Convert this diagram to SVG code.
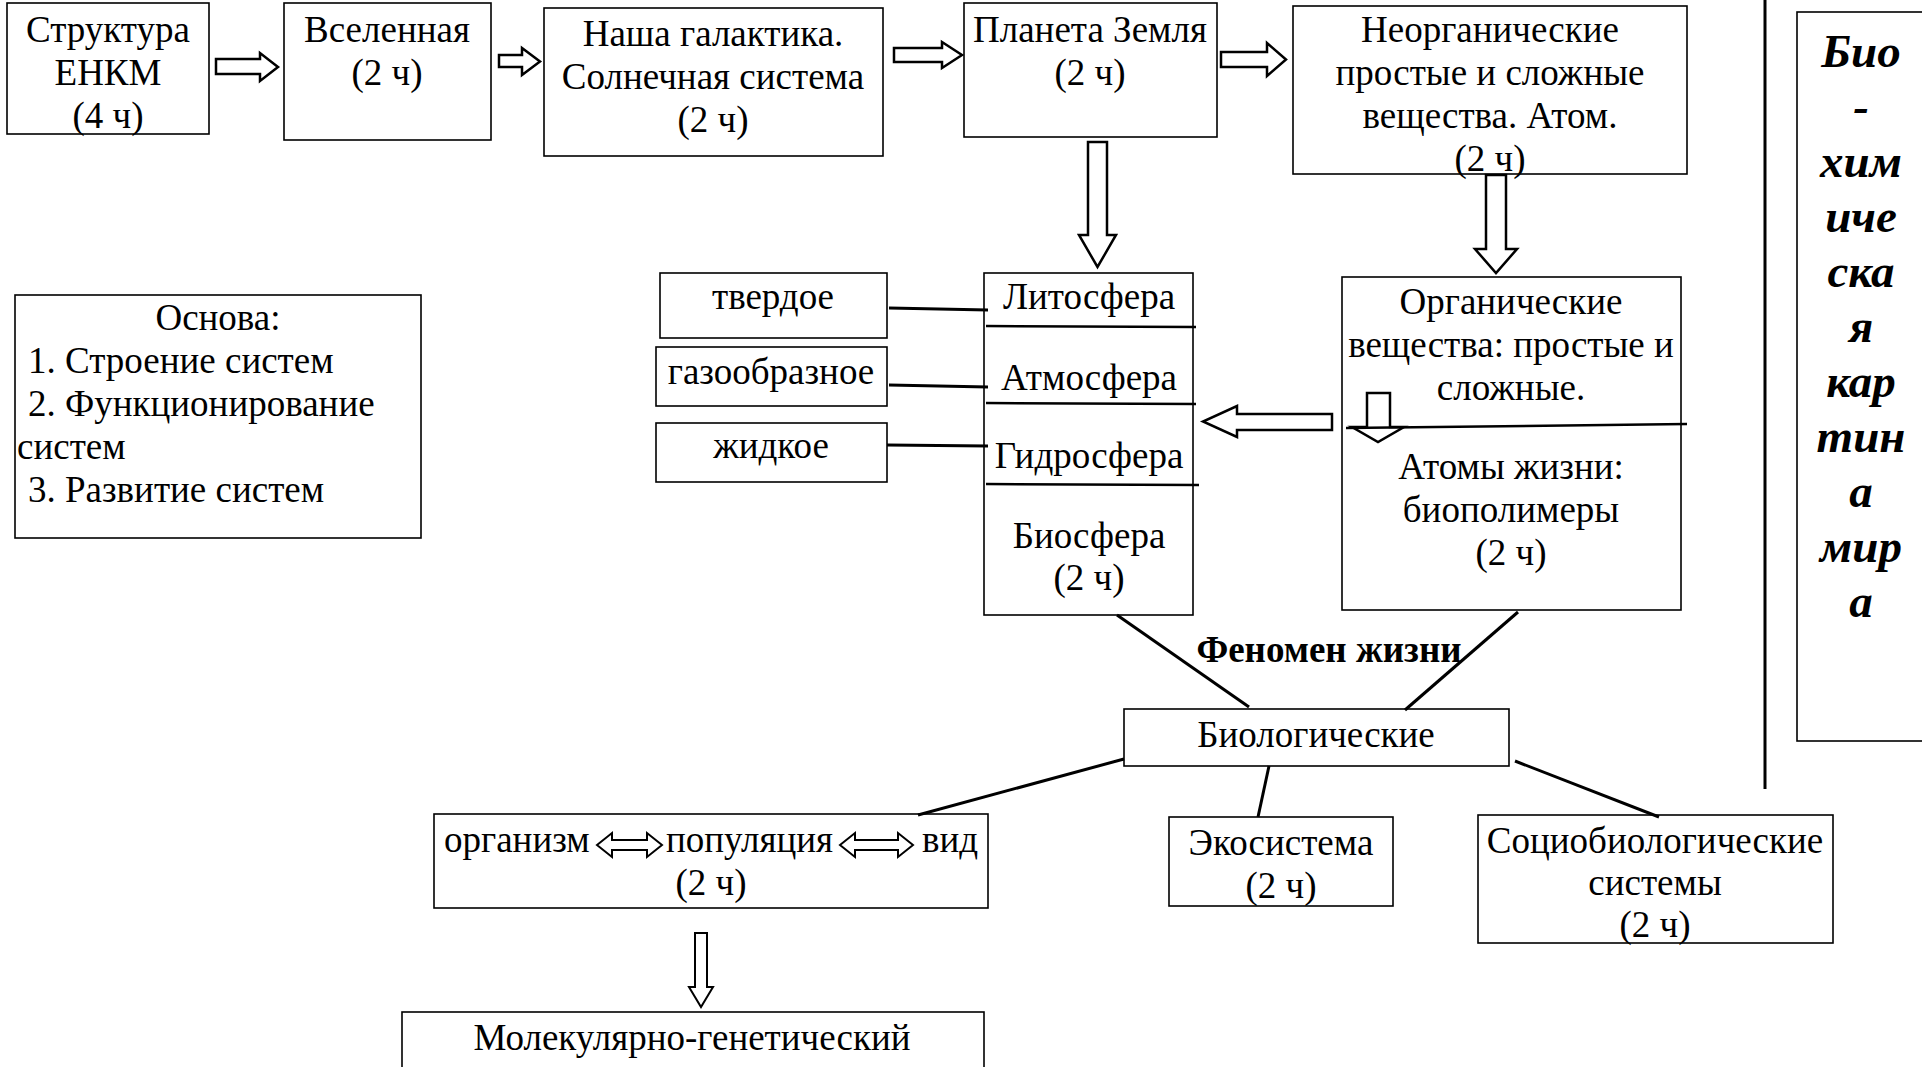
<svg xmlns="http://www.w3.org/2000/svg" width="1922" height="1067" viewBox="0 0 1922 1067">
<style>
  .box { fill: #fff; stroke: #000; stroke-width: 1.6; }
  .t { font-family: "Liberation Serif", "Times New Roman", serif; font-size: 37px; fill: #000; }
  .c { text-anchor: middle; }
  .b { font-weight: bold; }
  .bi { font-weight: bold; font-style: italic; font-size: 47px; text-anchor: middle; }
  .ln { stroke: #000; stroke-width: 3; fill: none; stroke-linecap: butt; }
  .div { stroke: #000; stroke-width: 2.5; fill: none; }
  .blk { fill: #fff; stroke: #000; stroke-width: 2.5; stroke-linejoin: miter; }
</style>
<rect x="0" y="0" width="1922" height="1067" fill="#fff"/>

<g id="node-struktura">
  <rect class="box" x="7" y="3" width="202" height="131"/>
  <text class="t c" x="108" y="42">Структура</text>
  <text class="t c" x="108" y="85">ЕНКМ</text>
  <text class="t c" x="108" y="128">(4 ч)</text>
</g>

<g id="node-vselennaya">
  <rect class="box" x="284" y="3" width="207" height="137"/>
  <text class="t c" x="387" y="42">Вселенная</text>
  <text class="t c" x="387" y="85">(2 ч)</text>
</g>

<g id="node-galaktika">
  <rect class="box" x="544" y="8" width="339" height="148"/>
  <text class="t c" x="713" y="46">Наша галактика.</text>
  <text class="t c" x="713" y="89">Солнечная система</text>
  <text class="t c" x="713" y="132">(2 ч)</text>
</g>

<g id="node-zemlya">
  <rect class="box" x="964" y="3" width="253" height="134"/>
  <text class="t c" x="1090" y="42">Планета Земля</text>
  <text class="t c" x="1090" y="85">(2 ч)</text>
</g>

<g id="node-neorg">
  <rect class="box" x="1293" y="6" width="394" height="168"/>
  <text class="t c" x="1490" y="42">Неорганические</text>
  <text class="t c" x="1490" y="85">простые и сложные</text>
  <text class="t c" x="1490" y="128">вещества. Атом.</text>
  <text class="t c" x="1490" y="171">(2 ч)</text>
</g>

<g id="node-kartina">
  <rect class="box" x="1797" y="12" width="200" height="729"/>
  <text class="t bi" x="1861" y="67">Био</text>
  <text class="t bi" x="1861" y="122">-</text>
  <text class="t bi" x="1861" y="177">хим</text>
  <text class="t bi" x="1861" y="232">иче</text>
  <text class="t bi" x="1861" y="287">ска</text>
  <text class="t bi" x="1861" y="342">я</text>
  <text class="t bi" x="1861" y="397">кар</text>
  <text class="t bi" x="1861" y="452">тин</text>
  <text class="t bi" x="1861" y="507">а</text>
  <text class="t bi" x="1861" y="562">мир</text>
  <text class="t bi" x="1861" y="617">а</text>
</g>

<g id="node-osnova">
  <rect class="box" x="15" y="295" width="406" height="243"/>
  <text class="t c" x="218" y="330">Основа:</text>
  <text class="t" x="28" y="373">1. Строение систем</text>
  <text class="t" x="28" y="416">2. Функционирование</text>
  <text class="t" x="17" y="459">систем</text>
  <text class="t" x="28" y="502">3. Развитие систем</text>
</g>

<g id="node-tverdoe">
  <rect class="box" x="660" y="273" width="227" height="65"/>
  <text class="t c" x="773" y="309">твердое</text>
</g>
<g id="node-gaz">
  <rect class="box" x="656" y="347" width="231" height="59"/>
  <text class="t c" x="771" y="384">газообразное</text>
</g>
<g id="node-zhidkoe">
  <rect class="box" x="656" y="423" width="231" height="59"/>
  <text class="t c" x="771" y="458">жидкое</text>
</g>

<g id="node-sfery">
  <rect class="box" x="984" y="273" width="209" height="342"/>
  <line class="div" x1="986" y1="326" x2="1196" y2="327"/>
  <line class="div" x1="986" y1="403" x2="1196" y2="404"/>
  <line class="div" x1="986" y1="484" x2="1199" y2="485"/>
  <text class="t c" x="1089" y="309">Литосфера</text>
  <text class="t c" x="1089" y="390">Атмосфера</text>
  <text class="t c" x="1089" y="468">Гидросфера</text>
  <text class="t c" x="1089" y="548">Биосфера</text>
  <text class="t c" x="1089" y="590">(2 ч)</text>
</g>

<g id="node-organic">
  <rect class="box" x="1342" y="277" width="339" height="333"/>
  <text class="t c" x="1511" y="314">Органические</text>
  <text class="t c" x="1511" y="357">вещества: простые и</text>
  <text class="t c" x="1511" y="400">сложные.</text>
  <path class="blk" d="M1367,393 V427 H1352 L1378,442 L1404,427 H1390 V393 Z"/>
  <line class="div" x1="1346" y1="428" x2="1687" y2="424"/>
  <text class="t c" x="1511" y="479">Атомы жизни:</text>
  <text class="t c" x="1511" y="522">биополимеры</text>
  <text class="t c" x="1511" y="565">(2 ч)</text>
</g>

<g id="label-fenomen">
  <text class="t c b" x="1329" y="662">Феномен жизни</text>
</g>

<g id="node-biolog">
  <rect class="box" x="1124" y="709" width="385" height="57"/>
  <text class="t c" x="1316" y="747">Биологические</text>
</g>

<g id="node-organizm">
  <rect class="box" x="434" y="814" width="554" height="94"/>
  <text class="t" x="444" y="852">организм</text>
  <path class="blk" style="stroke-width:2" d="M597,845 L612,833 V840 H647 V833 L662,845 L647,857 V850 H612 V857 Z"/>
  <text class="t" x="666" y="852">популяция</text>
  <path class="blk" style="stroke-width:2" d="M840,845 L855,833 V840 H898 V833 L913,845 L898,857 V850 H855 V857 Z"/>
  <text class="t" x="922" y="852">вид</text>
  <text class="t c" x="711" y="895">(2 ч)</text>
</g>

<g id="node-ekosistema">
  <rect class="box" x="1169" y="817" width="224" height="89"/>
  <text class="t c" x="1281" y="855">Экосистема</text>
  <text class="t c" x="1281" y="898">(2 ч)</text>
</g>

<g id="node-sociobio">
  <rect class="box" x="1478" y="815" width="355" height="128"/>
  <text class="t c" x="1655" y="853">Социобиологические</text>
  <text class="t c" x="1655" y="895">системы</text>
  <text class="t c" x="1655" y="937">(2 ч)</text>
</g>

<g id="node-molgen">
  <rect class="box" x="402" y="1012" width="582" height="80"/>
  <text class="t c" x="692" y="1050">Молекулярно-генетический</text>
</g>

<g id="connectors">
  <path class="blk" d="M216,59 H260 V53 L278,67 L260,81 V74 H216 Z"/>
  <path class="blk" d="M499,55 H522 V48 L540,61.5 L522,75 V67 H499 Z"/>
  <path class="blk" d="M894,48 H942 V42 L962,55 L942,68 V62 H894 Z"/>
  <path class="blk" d="M1221,52 H1267 V43 L1286,59.5 L1267,76 V67 H1221 Z"/>
  <path class="blk" d="M1088,142 V235 H1079 L1097.5,267 L1116,235 H1107 V142 Z"/>
  <path class="blk" d="M1486,175 V249 H1475 L1496,273 L1517,249 H1506 V175 Z"/>
  <path class="blk" d="M1332,414 H1237 V406 L1203,421.5 L1237,437 V430 H1332 Z"/>
  <path class="blk" style="stroke-width:2" d="M695,933 V987 H689 L701,1007 L713,987 H707 V933 Z"/>
  <line class="ln" x1="889" y1="308" x2="988" y2="310"/>
  <line class="ln" x1="889" y1="385" x2="988" y2="387"/>
  <line class="ln" x1="887" y1="445" x2="988" y2="446"/>
  <line class="ln" x1="1117" y1="615" x2="1249" y2="707"/>
  <line class="ln" x1="1518" y1="612" x2="1405" y2="710"/>
  <line class="ln" x1="1124" y1="759" x2="918" y2="815"/>
  <line class="ln" x1="1269" y1="766" x2="1258" y2="817"/>
  <line class="ln" x1="1515" y1="761" x2="1659" y2="817"/>
  <line class="ln" x1="1765" y1="0" x2="1765" y2="789"/>
</g>
</svg>
